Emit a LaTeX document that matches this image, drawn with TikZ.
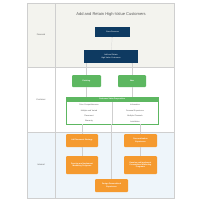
\documentclass[tikz,border=0pt]{standalone}
\usepackage{fontspec}
\setmainfont{Liberation Sans}
\usetikzlibrary{positioning,calc}

\definecolor{navy}{HTML}{0E3A61}
\definecolor{leaf}{HTML}{5DB761}
\definecolor{amber}{HTML}{F59A2F}
\definecolor{ivory}{HTML}{F3F3EE}
\definecolor{ice}{HTML}{EEF5FA}
\definecolor{rule}{HTML}{CFCFCF}
\definecolor{ink}{HTML}{5A5A5A}

\tikzset{
    navybox/.style={fill=navy, text=white, align=center, inner sep=0pt,
        font=\fontsize{5.5}{6.5}\selectfont},
    leafbox/.style={fill=leaf, text=white, align=center, inner sep=0pt,
        rounded corners=1mm, font=\bfseries\fontsize{5.5}{6.5}\selectfont},
    amberbox/.style={fill=amber, text=white, align=center, inner sep=0pt,
        rounded corners=1mm, font=\bfseries\fontsize{5.5}{6.5}\selectfont},
    lanelabel/.style={text=ink, font=\fontsize{6}{7}\selectfont},
    cell/.style={text=ink, font=\fontsize{5.5}{6.5}\selectfont},
    link/.style={draw=rule, line width=0.6pt},
}

\begin{document}
\begin{tikzpicture}[x=1mm, y=-1mm]
    \useasboundingbox (0,0) rectangle (200,200);

    % Lanes
    \fill[ivory] (27,3) rectangle (174,67);
    \fill[white] (27,67) rectangle (174,132);
    \fill[ice] (27,132) rectangle (174,198);
    \draw[rule] (27,3) rectangle (174,198);
    \draw[rule] (27,67) -- (174,67);
    \draw[rule] (27,132) -- (174,132);
    \draw[rule] (55,3) -- (55,198);

    % Title and lane labels
    \node[text=ink, font=\fontsize{11.5}{13}\selectfont] (title) at (111,14) {Add and Retain High-Value Customers};
    \node[lanelabel] (financial) at (41,35) {Financial};
    \node[lanelabel] (customer) at (41,100) {Customer};
    \node[lanelabel] (internal) at (41,165) {Internal};

    % Financial
    \node[navybox, minimum width=35mm, minimum height=10mm] (grow) at (112.5,32) {Grow Revenue};
    \node[navybox, minimum width=54mm, minimum height=13mm] (retain) at (111,56.5) {Add and Retain\\High-Value Customers};

    % Customer
    \node[leafbox, minimum width=29mm, minimum height=12mm] (existing) at (86.5,81) {Existing};
    \node[leafbox, minimum width=28mm, minimum height=12mm] (new) at (132,81) {New};

    \node[draw=leaf, line width=0.8pt, minimum width=92mm, minimum height=27mm, inner sep=0pt] (cvp) at (112,110.5) {};
    \fill[leaf] (cvp.north west) rectangle ($(cvp.north east)+(0,5)$);
    \node[text=white, font=\bfseries\fontsize{5.5}{6.5}\selectfont] (cvptitle) at ($(cvp.north)+(0,2.5)$) {Customer Value Proposition};
    \draw[rule] ($(cvp.north)+(0,5)$) -- (cvp.south);
    \node[cell] (l1) at (89,105) {Price Competitiveness};
    \node[cell] (l2) at (89,110.5) {Multiple and Varied};
    \node[cell] (l3) at (89,116) {Placement};
    \node[cell] (l4) at (89,121.5) {Warranty};
    \node[cell] (r1) at (135,105) {Information};
    \node[cell] (r2) at (135,110.5) {Personal Experience};
    \node[cell] (r3) at (135,116) {Multiple Channels};
    \node[cell] (r4) at (135,121.5) {Installation};

    % Internal
    \node[amberbox, minimum width=32mm, minimum height=13mm] (adplace) at (82,140.5) {Ad Placement Strategy};
    \node[amberbox, minimum width=33mm, minimum height=13mm] (personal) at (140.5,140.5) {Personalization\\Experience};
    \node[amberbox, minimum width=32mm, minimum height=18mm] (marketing) at (82,165) {Develop and Implement\\Marketing Programs};
    \node[amberbox, minimum width=33mm, minimum height=18mm] (permarketing) at (140.5,165) {Develop and Implement\\Personalized Marketing\\Programs};
    \node[amberbox, minimum width=33mm, minimum height=13mm] (design) at (111.5,185.5) {Design Personalized\\Experience};

    % Connectors
    \draw[link, ->] (retain) -- (grow);
    \draw[link, ->] (existing) -- (existing.north |- retain.south);
    \draw[link, ->] (new) -- (new.north |- retain.south);
    \draw[link] (existing) -- (existing.south |- cvp.north);
    \draw[link] (new) -- (new.south |- cvp.north);
    \draw[link] (adplace) -- (adplace.north |- cvp.south);
    \draw[link] (personal) -- (personal.north |- cvp.south);
    \draw[link] (design) -- (design.north |- cvp.south);
    \draw[link, ->] (marketing) -- (adplace);
    \draw[link, ->] (permarketing) -- (personal);
\end{tikzpicture}
\end{document}
